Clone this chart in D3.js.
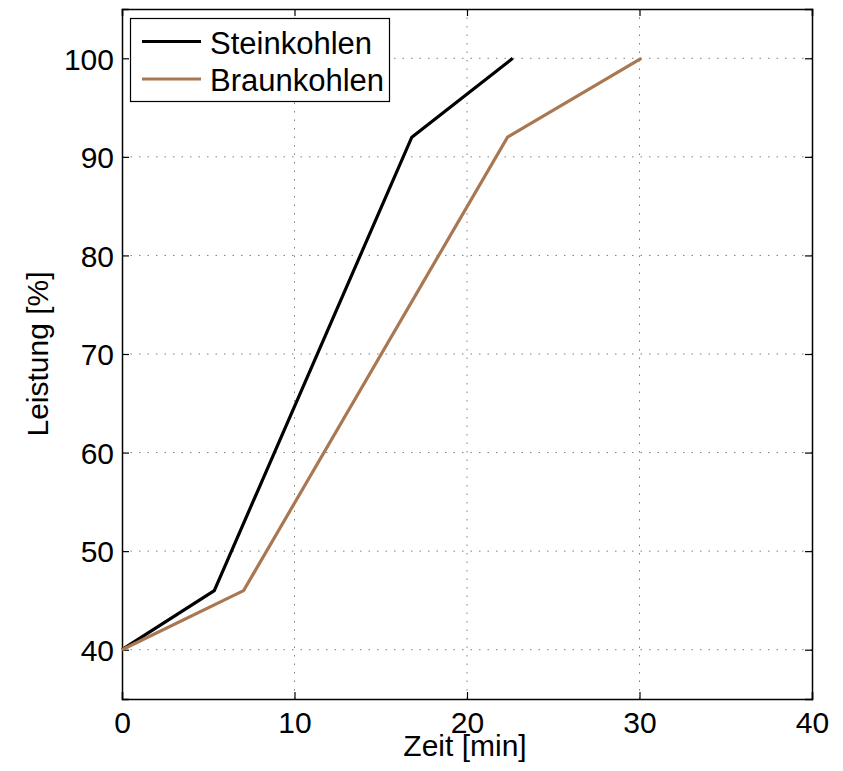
<!DOCTYPE html>
<html>
<head>
<meta charset="utf-8">
<script src="https://cdn.jsdelivr.net/npm/d3@7"></script>
<style>
  html, body { margin: 0; padding: 0; background: #fff; }
  text { font-family: "Liberation Sans", Arial, Helvetica, sans-serif; fill: #000; }
</style>
</head>
<body>
<svg id="chart" width="843" height="771"></svg>
<script>
// Start-up curves: time [min] vs. power output [%]
const steinTime = [0, 5.35, 16.8, 22.65];
const steinLoad = [40, 46, 92, 100];
const braunTime = [0, 7.05, 22.35, 30.1];
const braunLoad = [40, 46, 92, 100];
const seriesNames = ["Steinkohlen", "Braunkohlen"];
const seriesColors = ["#000000", "#a97852"];
const xTicks = [0, 10, 20, 30, 40];
const yTicks = [40, 50, 60, 70, 80, 90, 100];
const xLabel = "Zeit [min]";
const yLabel = "Leistung [%]";

const svg = d3.select("#chart");
const m = { left: 122, right: 812, top: 9, bottom: 699 };
const x = d3.scaleLinear().domain([0, 40]).range([m.left, m.right]);
const y = d3.scaleLinear().domain([35, 105]).range([m.bottom, m.top]);

const tickFont = 30;
const labelFont = 30;
const legendFont = 31;

// dotted grid
const grid = svg.append("g");
grid.selectAll(".gx").data(xTicks.filter(d => d > 0 && d < 40)).enter().append("line")
  .attr("x1", d => x(d)).attr("x2", d => x(d)).attr("y1", m.top).attr("y2", m.bottom)
  .attr("stroke", "#7f7f7f").attr("stroke-width", 1).attr("stroke-dasharray", "1.5,7");
grid.selectAll(".gy").data(yTicks).enter().append("line")
  .attr("x1", m.left).attr("x2", m.right).attr("y1", d => y(d)).attr("y2", d => y(d))
  .attr("stroke", "#7f7f7f").attr("stroke-width", 1).attr("stroke-dasharray", "1.5,7");

// axes (ticks inward, mirrored on top/right)
const tick = 7;
const axB = svg.append("g").attr("transform", `translate(0,${m.bottom})`)
  .call(d3.axisBottom(x).tickValues(xTicks).tickSize(-tick).tickPadding(13).tickFormat(d3.format("d")));
const axL = svg.append("g").attr("transform", `translate(${m.left},0)`)
  .call(d3.axisLeft(y).tickValues(yTicks).tickSize(-tick).tickPadding(8).tickFormat(d3.format("d")));
const axT = svg.append("g").attr("transform", `translate(0,${m.top})`)
  .call(d3.axisTop(x).tickValues(xTicks).tickSize(-tick).tickFormat(""));
const axR = svg.append("g").attr("transform", `translate(${m.right},0)`)
  .call(d3.axisRight(y).tickValues(yTicks).tickSize(-tick).tickFormat(""));
[axB, axL, axT, axR].forEach(a => {
  a.select(".domain").attr("stroke", "#000").attr("stroke-width", 1.5);
  a.selectAll(".tick line").attr("stroke", "#000").attr("stroke-width", 1.2);
  a.selectAll("text").attr("font-size", tickFont).attr("font-family", "Liberation Sans, Arial, sans-serif").attr("fill", "#000");
});
axB.selectAll("text").attr("dy", "0.71em");
axL.selectAll("text").attr("dy", "0.36em");

// series lines
const line = d3.line().x(d => x(d[0])).y(d => y(d[1]));
const series = [
  d3.zip(steinTime, steinLoad),
  d3.zip(braunTime, braunLoad)
];
svg.append("g").selectAll("path").data(series).enter().append("path")
  .attr("d", line)
  .attr("fill", "none")
  .attr("stroke", (d, i) => seriesColors[i])
  .attr("stroke-width", 3.2)
  .attr("stroke-linejoin", "miter");

// axis titles
svg.append("text").attr("x", 465).attr("y", 756)
  .attr("text-anchor", "middle").attr("font-size", labelFont).text(xLabel);
svg.append("text").attr("transform", `translate(48,354) rotate(-90)`)
  .attr("text-anchor", "middle").attr("font-size", labelFont).text(yLabel);

// legend
const lg = svg.append("g");
lg.append("rect").attr("x", 130.5).attr("y", 18.5).attr("width", 259).attr("height", 83)
  .attr("fill", "#fff").attr("stroke", "#000").attr("stroke-width", 1.2);
seriesNames.forEach((name, i) => {
  const yy = 41.5 + i * 37.5;
  lg.append("line").attr("x1", 142).attr("x2", 201).attr("y1", yy).attr("y2", yy)
    .attr("stroke", seriesColors[i]).attr("stroke-width", 3.2);
  lg.append("text").attr("x", 210).attr("y", yy + 12).attr("font-size", legendFont).text(name);
});
</script>
</body>
</html>
